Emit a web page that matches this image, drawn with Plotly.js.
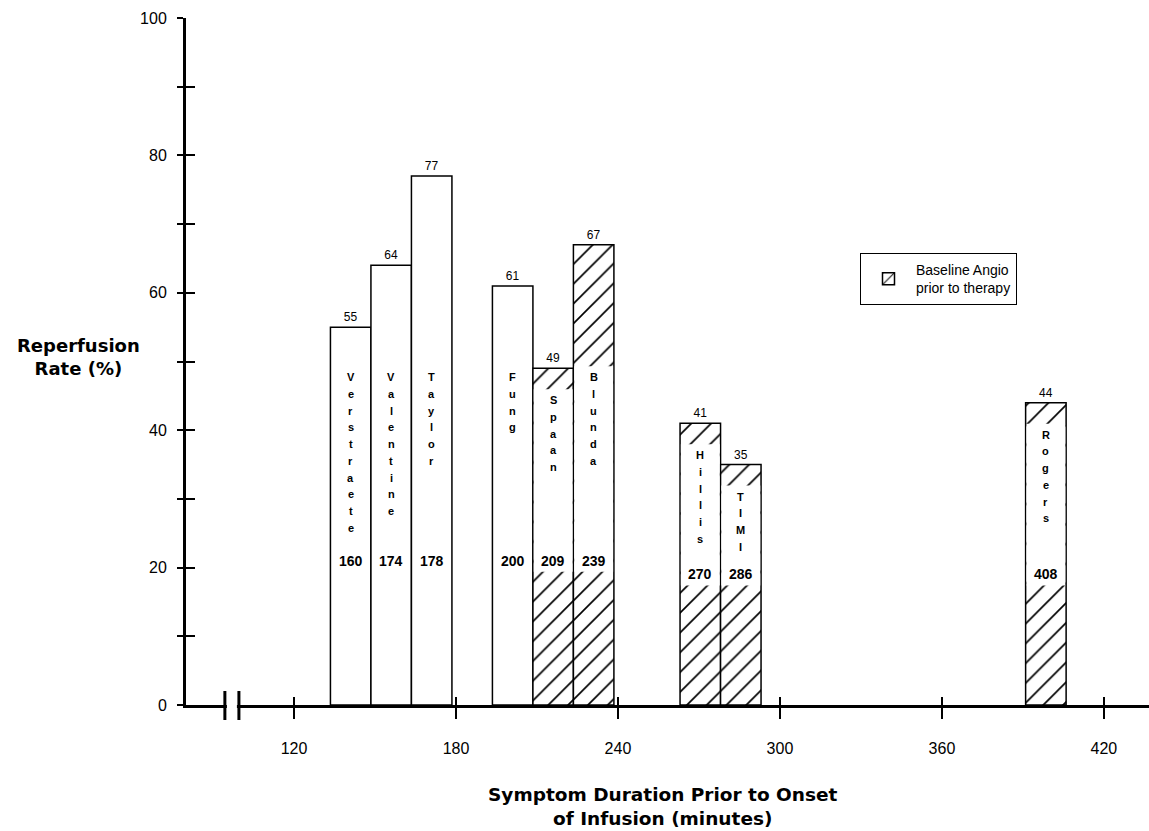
<!DOCTYPE html>
<html><head><meta charset="utf-8">
<script src="https://cdn.plot.ly/plotly-3.0.1.min.js"></script>
<style>html,body{margin:0;padding:0;background:#fff}#chart{width:1149px;height:831px}</style>
</head><body><div id="chart"></div>
<script>
// ---- data ----
const studies = ['Verstraete','Valentine','Taylor','Fung','Spaan','Blunda','Hillis','TIMI','Rogers'];
const durations = [160,174,178,200,209,239,270,286,408];          // printed duration labels (minutes)
const xPos = [141,156,171,201,216,231,270.5,285.5,398.5];           // bar centres on the minutes axis
const rates = [55,64,77,61,49,67,41,35,44];                          // reperfusion rate (%)
const baselineAngio = [false,false,false,false,true,true,true,true,true];
const xTicks = [120,180,240,300,360,420];
const yTicks = [0,10,20,30,40,50,60,70,80,90,100];
const yTickText = ['0','','20','','40','','60','','80','','100'];
const axisBreak = [94.4, 99.6];
const legendName = 'Baseline Angio<br>prior to therapy';

// ---- layout constants ----
const W = 1149, H = 831;
const M = {l:186, r:0, t:18, b:126};
const xRange = [80, 436.7], yRange = [0, 100];
const plotW = W - M.l - M.r, plotH = H - M.t - M.b;
const pxY = plotH / (yRange[1] - yRange[0]);
const FONT = 'Liberation Sans, Arial, Helvetica, sans-serif';
const TFONT = 'DejaVu Sans, Liberation Sans, Arial, sans-serif';
const barW = 15;
const letterStep = 16.7;

function pick(arr, flag) { return arr.filter((_, i) => baselineAngio[i] === flag); }
function nameTop(v) { return Math.min(47.7, v - 32 / pxY); }
function numY(v) { return v >= 45 ? 21 : 19; }

const openTrace = {
  type: 'bar', x: pick(xPos, false), y: pick(rates, false), width: barW,
  marker: {color: '#fff', line: {color: '#000', width: 1.5}},
  text: pick(rates, false).map(String), textposition: 'outside',
  textfont: {family: FONT, size: 12, color: '#000'}, constraintext: 'none',
  cliponaxis: false, showlegend: false, hoverinfo: 'skip'
};
const hatchTrace = {
  type: 'bar', x: pick(xPos, true), y: pick(rates, true), width: barW, name: legendName,
  marker: {color: '#fff', line: {color: '#000', width: 1.5},
           pattern: {shape: '/', fgcolor: '#000', bgcolor: '#fff', size: 14, solidity: 0.12}},
  text: pick(rates, true).map(String), textposition: 'outside',
  textfont: {family: FONT, size: 12, color: '#000'}, constraintext: 'none',
  cliponaxis: false, showlegend: true, hoverinfo: 'skip'
};
// white panel behind the vertical study names inside the hatched bars
const hr = pick(rates, true);
const gapBase = hr.map(v => numY(v) - 11 / pxY);
const gapTop = hr.map(v => nameTop(v) + 11 / pxY);
const gapTrace = {
  type: 'bar', xaxis: 'x2', yaxis: 'y2', x: pick(xPos, true),
  base: gapBase, y: gapTop.map((t, i) => t - gapBase[i]), width: barW - 0.6,
  marker: {color: '#fff', line: {width: 0}}, showlegend: false, hoverinfo: 'skip'
};

// ---- annotations ----
const ann = [];
studies.forEach((s, i) => {
  const top = nameTop(rates[i]);
  s.split('').forEach((ch, j) => {
    ann.push({x: xPos[i], y: top, yshift: -j * letterStep, text: ch, showarrow: false,
              xref: 'x', yref: 'y', font: {family: FONT, size: 11, color: '#000', weight: 700}});
  });
  ann.push({x: xPos[i], y: numY(rates[i]), text: String(durations[i]), showarrow: false,
            xref: 'x', yref: 'y', font: {family: FONT, size: 14, color: '#000', weight: 700}});
});
ann.push({xref: 'paper', yref: 'paper', x: (78 - M.l) / plotW, y: (H - M.b - 357.5) / plotH,
          xanchor: 'center', yanchor: 'middle',
          text: 'Reperfusion<br>Rate (%)', showarrow: false, align: 'center',
          font: {family: TFONT, size: 18, color: '#000', weight: 700}});
ann.push({xref: 'paper', yref: 'paper', x: (663 - M.l) / plotW, y: (H - M.b - 806.5) / plotH,
          xanchor: 'center', yanchor: 'middle',
          text: 'Symptom Duration Prior to Onset<br>of Infusion (minutes)', showarrow: false, align: 'center',
          font: {family: TFONT, size: 18.5, color: '#000', weight: 700}});

// ---- axis break ----
const px = v => (v - xRange[0]) / (xRange[1] - xRange[0]);
const shapes = [
  {type: 'rect', xref: 'paper', yref: 'paper', x0: px(axisBreak[0]) + 2 / plotW, x1: px(axisBreak[1]) - 2 / plotW,
   y0: -4 / plotH, y1: 4 / plotH, fillcolor: '#fff', line: {width: 0}, layer: 'above'},
  ...axisBreak.map(v => ({type: 'line', xref: 'paper', yref: 'paper', x0: px(v), x1: px(v),
   y0: -15 / plotH, y1: 14 / plotH, line: {color: '#000', width: 3}, layer: 'above'}))
];

const layout = {
  width: W, height: H, margin: M, paper_bgcolor: '#fff', plot_bgcolor: '#fff',
  barmode: 'overlay', font: {family: FONT, color: '#000'},
  xaxis: {range: xRange, tickvals: xTicks, ticks: 'outside', ticklen: 11, tickwidth: 2.5, tickcolor: '#000',
          showline: true, linewidth: 2.5, linecolor: '#000', showgrid: false, zeroline: false,
          tickfont: {family: FONT, size: 16, color: '#000'}, ticklabelstandoff: 16, fixedrange: true},
  xaxis2: {range: xRange, overlaying: 'x', anchor: 'y2', tickvals: xTicks, ticks: 'inside', ticklen: 8,
           tickwidth: 2.5, tickcolor: '#000', showticklabels: false, showline: false, showgrid: false, zeroline: false},
  yaxis: {range: yRange, tickvals: yTicks, ticktext: yTickText, ticks: 'outside', ticklen: 6, tickwidth: 2,
          tickcolor: '#000', showline: true, linewidth: 3, linecolor: '#000', showgrid: false, zeroline: false,
          tickfont: {family: FONT, size: 16, color: '#000'}, ticklabelstandoff: 7, fixedrange: true},
  yaxis2: {range: yRange, overlaying: 'y', anchor: 'x2', tickvals: yTicks, ticks: 'inside', ticklen: 9,
           tickwidth: 2, tickcolor: '#000', showticklabels: false, showline: false, showgrid: false, zeroline: false},
  legend: {x: (860 - M.l) / plotW, y: (H - M.b - 253) / plotH, xanchor: 'left', yanchor: 'top',
           bordercolor: '#000', borderwidth: 1, bgcolor: '#fff', itemwidth: 45,
           font: {family: FONT, size: 14, color: '#000'}},
  annotations: ann, shapes: shapes
};

Plotly.newPlot('chart', [openTrace, hatchTrace, gapTrace], layout, {displayModeBar: false, staticPlot: true});
</script></body></html>
